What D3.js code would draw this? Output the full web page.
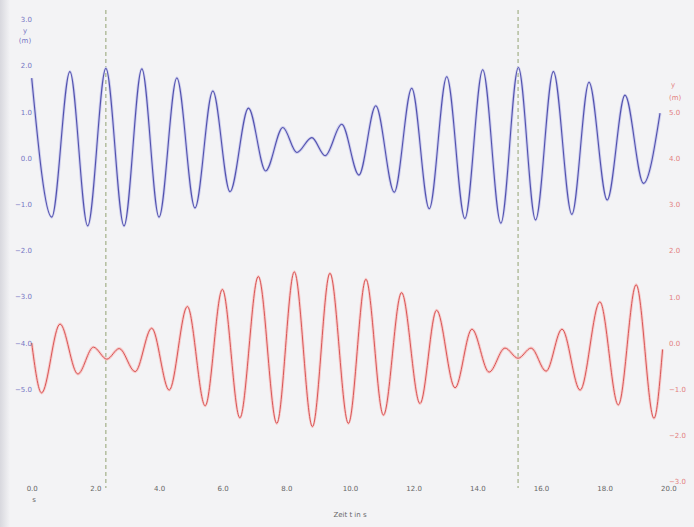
<!DOCTYPE html>
<html><head><meta charset="utf-8">
<script src="https://cdn.jsdelivr.net/npm/d3@7"></script>
<style>html,body{margin:0;padding:0;background:#f3f3f5;}svg{display:block;}</style>
</head><body>
<script>
// ---- data ----
const blueTime  = [0.00,0.63,1.20,1.76,2.33,2.90,3.46,4.00,4.56,5.13,5.69,6.23,6.81,7.35,7.89,8.33,8.80,9.22,9.74,10.28,10.81,11.39,11.94,12.49,13.04,13.61,14.17,14.74,15.29,15.83,16.39,16.97,17.51,18.08,18.64,19.22,19.74];
const blueValue = [1.73,-1.28,1.87,-1.47,1.94,-1.47,1.93,-1.28,1.73,-1.08,1.45,-0.73,1.08,-0.28,0.66,0.12,0.44,0.05,0.73,-0.37,1.13,-0.74,1.51,-1.10,1.76,-1.31,1.91,-1.41,1.96,-1.34,1.87,-1.22,1.64,-0.91,1.36,-0.55,0.97];
const redTime  = [0.00,0.31,0.89,1.45,1.94,2.36,2.75,3.25,3.77,4.32,4.89,5.45,5.99,6.54,7.12,7.70,8.25,8.82,9.37,9.95,10.50,11.05,11.62,12.20,12.72,13.30,13.83,14.37,14.87,15.28,15.69,16.16,16.66,17.23,17.85,18.43,18.99,19.55,19.82];
const redValue = [0.00,-1.08,0.41,-0.67,-0.09,-0.35,-0.12,-0.62,0.32,-1.02,0.79,-1.36,1.16,-1.62,1.44,-1.74,1.54,-1.81,1.51,-1.74,1.38,-1.56,1.09,-1.31,0.71,-0.97,0.30,-0.63,-0.11,-0.33,-0.11,-0.61,0.30,-1.02,0.89,-1.34,1.26,-1.63,-0.14];
const markerTimes = [2.33, 15.28];
const xTicks = [0,2,4,6,8,10,12,14,16,18,20];
const leftTicks = [3,2,1,0,-1,-2,-3,-4,-5];
const rightTicks = [5,4,3,2,1,0,-1,-2,-3];
const xTitle = "Zeit t in s";

// ---- drawing ----
const W = 694, H = 527;
const svg = d3.select("body").append("svg").attr("width", W).attr("height", H);

const defs = svg.append("defs");
const g1 = defs.append("linearGradient").attr("id","edge").attr("x1","0").attr("x2","1");
g1.append("stop").attr("offset","0").attr("stop-color","#d8d8de");
g1.append("stop").attr("offset","1").attr("stop-color","#f3f3f5");
svg.append("rect").attr("width",W).attr("height",H).attr("fill","#f3f3f5");
svg.append("rect").attr("width",10).attr("height",H).attr("fill","url(#edge)");

const x = d3.scaleLinear().domain([0,20]).range([31.7,668.3]);
const yL = d3.scaleLinear().domain([-5,3]).range([389,19.4]);
const yR = d3.scaleLinear().domain([-3,5]).range([481.6,112]);

// dashed markers
svg.selectAll("line.marker").data(markerTimes).enter().append("line")
  .attr("class","marker")
  .attr("x1",d=>x(d)).attr("x2",d=>x(d))
  .attr("y1",10).attr("y2",488)
  .attr("stroke","#9caa7e").attr("stroke-width",1.1)
  .attr("stroke-dasharray","4,3");

const blue = blueTime.map((t,i)=>[t,blueValue[i]]);
const red = redTime.map((t,i)=>[t,redValue[i]]);
const lineB = d3.line().x(d=>x(d[0])).y(d=>yL(d[1])).curve(d3.curveMonotoneX);
const lineR = d3.line().x(d=>x(d[0])).y(d=>yR(d[1])).curve(d3.curveMonotoneX);

svg.append("path").attr("d",lineB(blue)).attr("fill","none").attr("stroke","#cfcfee").attr("stroke-width",3);
svg.append("path").attr("d",lineB(blue)).attr("fill","none").attr("stroke","#5252ae").attr("stroke-width",1.1);
svg.append("path").attr("d",lineR(red)).attr("fill","none").attr("stroke","#f7cccc").attr("stroke-width",3);
svg.append("path").attr("d",lineR(red)).attr("fill","none").attr("stroke","#d85656").attr("stroke-width",1);

const fmt = d3.format(".1f");
function style(g, col){
  g.select(".domain").remove();
  g.selectAll(".tick line").remove();
  g.selectAll("text").attr("fill",col).style("font-family","DejaVu Sans, sans-serif").style("font-size","7px");
}
svg.append("g").attr("transform","translate(32,0)")
  .call(d3.axisLeft(yL).tickValues(leftTicks).tickFormat(fmt).tickSize(0).tickPadding(0))
  .call(g=>style(g,"#7575c4"));
svg.append("g").attr("transform","translate(669,0)")
  .call(d3.axisRight(yR).tickValues(rightTicks).tickFormat(fmt).tickSize(0).tickPadding(0))
  .call(g=>style(g,"#e38080"));
svg.append("g").attr("transform","translate(0,486)")
  .call(d3.axisBottom(x).tickValues(xTicks).tickFormat(fmt).tickSize(0).tickPadding(0))
  .call(g=>style(g,"#666"));

const lab = (t,px,py,col,anchor)=>svg.append("text").attr("x",px).attr("y",py).text(t)
  .attr("fill",col).attr("text-anchor",anchor||"middle")
  .style("font-family","DejaVu Sans, sans-serif").style("font-size","7px");
lab("y",25,33,"#7575c4");
lab("(m)",25,43,"#7575c4");
lab("y",671,87,"#e38080","start");
lab("(m)",669,100,"#e38080","start");
lab("s",34,502,"#666");
lab(xTitle,350,517,"#666");
</script>
</body></html>
